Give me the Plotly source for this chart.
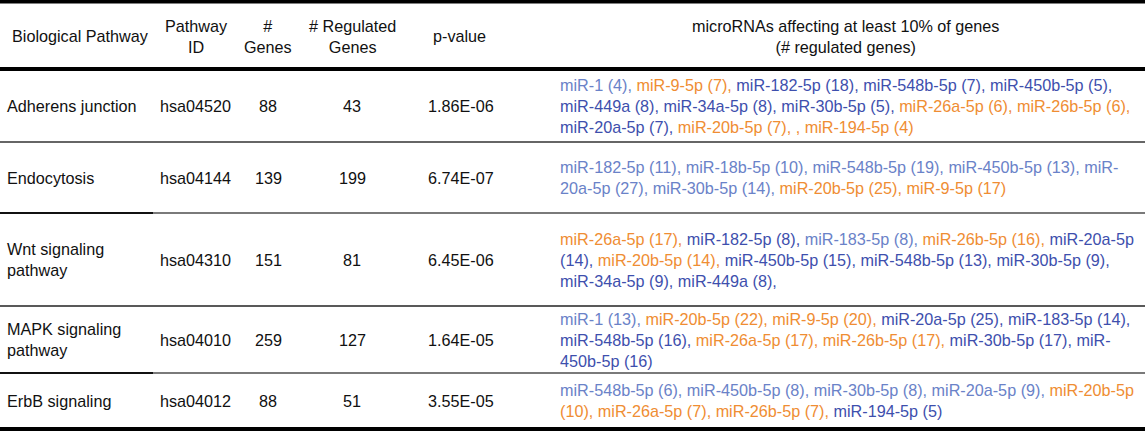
import plotly.graph_objects as go

# ── Table content ─────────────────────────────────────────────────────────
HEADERS = [
    "Biological Pathway",
    "Pathway<br>ID",
    "#<br>Genes",
    "# Regulated<br>Genes",
    "p-value",
    "microRNAs affecting at least 10% of genes<br>(# regulated genes)",
]

PATHWAYS    = ["Adherens junction", "Endocytosis", "Wnt signaling<br>pathway",
               "MAPK signaling<br>pathway", "ErbB signaling"]
PATHWAY_IDS = ["hsa04520", "hsa04144", "hsa04310", "hsa04010", "hsa04012"]
N_GENES     = [88, 139, 151, 259, 88]
N_REGULATED = [43, 199, 81, 127, 51]
P_VALUES    = ["1.86E-06", "6.74E-07", "6.45E-06", "1.64E-05", "3.55E-05"]

# (label, group) — "|" marks where the original cell wraps
MIRNAS = [
    [("miR-1 (4)", "L"), ("miR-9-5p (7)", "O"), ("miR-182-5p (18)", "D"),
     ("miR-548b-5p (7)", "D"), ("miR-450b-5p (5)", "D"), ("|miR-449a (8)", "D"),
     ("miR-34a-5p (8)", "D"), ("miR-30b-5p (5)", "D"), ("miR-26a-5p (6)", "O"),
     ("miR-26b-5p (6)", "O"), ("|miR-20a-5p (7)", "D"), ("miR-20b-5p (7)", "O"),
     ("", "O"), ("miR-194-5p (4)", "O")],
    [("miR-182-5p (11)", "L"), ("miR-18b-5p (10)", "L"), ("miR-548b-5p (19)", "L"),
     ("miR-450b-5p (13)", "L"), ("miR-|20a-5p (27)", "L"), ("miR-30b-5p (14)", "L"),
     ("miR-20b-5p (25)", "O"), ("miR-9-5p (17)", "O")],
    [("miR-26a-5p (17)", "O"), ("miR-182-5p (8)", "D"), ("miR-183-5p (8)", "L"),
     ("miR-26b-5p (16)", "O"), ("miR-20a-5p |(14)", "D"), ("miR-20b-5p (14)", "O"),
     ("miR-450b-5p (15)", "D"), ("miR-548b-5p (13)", "D"), ("miR-30b-5p (9)", "D"),
     ("|miR-34a-5p (9)", "D"), ("miR-449a (8)", "D"), ("", "D")],
    [("miR-1 (13)", "L"), ("miR-20b-5p (22)", "O"), ("miR-9-5p (20)", "O"),
     ("miR-20a-5p (25)", "D"), ("miR-183-5p (14)", "D"), ("|miR-548b-5p (16)", "D"),
     ("miR-26a-5p (17)", "O"), ("miR-26b-5p (17)", "O"), ("miR-30b-5p (17)", "D"),
     ("miR-|450b-5p (16)", "D")],
    [("miR-548b-5p (6)", "L"), ("miR-450b-5p (8)", "L"), ("miR-30b-5p (8)", "L"),
     ("miR-20a-5p (9)", "L"), ("miR-20b-5p |(10)", "O"), ("miR-26a-5p (7)", "O"),
     ("miR-26b-5p (7)", "O"), ("miR-194-5p (5)", "D")],
]

# ── Layout constants (pixel space) ────────────────────────────────────────
W, H = 1145, 431
GROUP_COLORS = {"L": "#6a82c8", "D": "#3e4fad", "O": "#ef8d33"}
TEXT_COLOR = "#111111"
FONT = "Liberation Sans, Arial, sans-serif"
FONT_SIZE = 16.2

HEADER_Y   = 36
ROW_EDGES  = [70, 142, 213, 306, 373, 428]
HEADER_X   = [80, 196, 268, 352, 459, 845]
CELL_X     = [5, 195, 268, 352, 461, 558]


def mirna_html(items):
    """Join the microRNA list into coloured, line-broken rich text."""
    parts = []
    for i, (label, group) in enumerate(items):
        text = label + (", " if i < len(items) - 1 else "")
        color = GROUP_COLORS[group]
        chunks = text.split("|")
        for j, chunk in enumerate(chunks):
            if j > 0:
                parts.append("<br>")
            if chunk:
                parts.append(f'<span style="color:{color}">{chunk}</span>')
    return "".join(parts)


fig = go.Figure()
annotations = []


def add_text(x, y, text, xanchor="center", align="center", color=TEXT_COLOR):
    annotations.append(dict(
        x=x, y=y, xref="x", yref="y", text=text, showarrow=False,
        xanchor=xanchor, yanchor="middle", align=align,
        font=dict(family=FONT, size=FONT_SIZE, color=color),
    ))


for hx, label in zip(HEADER_X, HEADERS):
    add_text(hx, HEADER_Y, label)

for r in range(len(PATHWAYS)):
    yc = (ROW_EDGES[r] + ROW_EDGES[r + 1]) / 2
    add_text(CELL_X[0], yc, PATHWAYS[r], xanchor="left", align="left")
    add_text(CELL_X[1], yc, PATHWAY_IDS[r])
    add_text(CELL_X[2], yc, str(N_GENES[r]))
    add_text(CELL_X[3], yc, str(N_REGULATED[r]))
    add_text(CELL_X[4], yc, P_VALUES[r])
    add_text(CELL_X[5], yc, mirna_html(MIRNAS[r]), xanchor="left", align="left")

# ── Rules ─────────────────────────────────────────────────────────────────
shapes = []


def rule(y, width, color="#000000", x0=0, x1=W):
    shapes.append(dict(type="line", xref="x", yref="y", x0=x0, x1=x1, y0=y, y1=y,
                       line=dict(color=color, width=width)))


rule(1.5, 4)
rule(ROW_EDGES[0] - 1, 4)
rule(ROW_EDGES[1], 1.5, "#333333")
rule(ROW_EDGES[2], 2, "#7a7a7a")
rule(ROW_EDGES[2], 2, "#111111", x1=153)
rule(ROW_EDGES[3], 1.5, "#222222")
rule(ROW_EDGES[4], 2, "#7a7a7a")
rule(ROW_EDGES[4], 2, "#111111", x1=153)
rule(H - 2, 4)

fig.update_layout(
    width=W, height=H,
    margin=dict(l=0, r=0, t=0, b=0),
    plot_bgcolor="white", paper_bgcolor="white",
    xaxis=dict(range=[0, W], visible=False, fixedrange=True),
    yaxis=dict(range=[H, 0], visible=False, fixedrange=True),
    annotations=annotations,
    shapes=shapes,
    showlegend=False,
)

# drop the browser's default body margin so the table sits flush in the window
fig.write_html(
    "out.html",
    config={"displayModeBar": False},
    post_script="document.body.style.margin='0';document.body.style.overflow='hidden';",
)
